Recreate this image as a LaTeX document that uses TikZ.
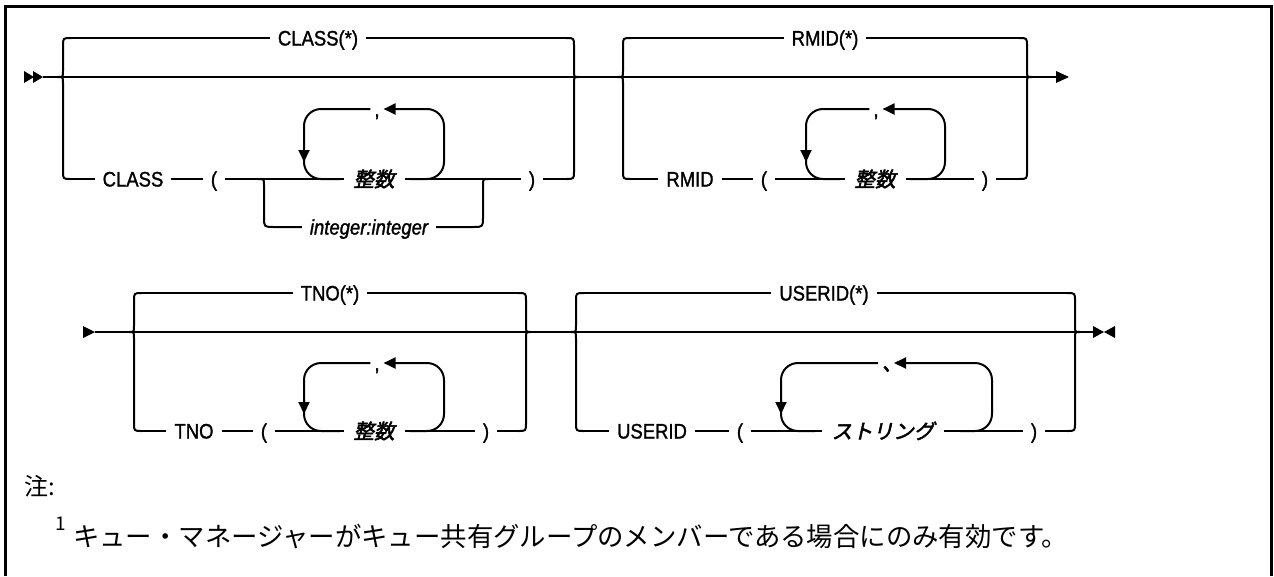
\documentclass[tikz,border=0pt]{standalone}
\usepackage{fontspec}
\setmainfont{Liberation Sans}[FakeStretch=0.88,FakeBold=1.3]
\newfontfamily\cjk{Noto Sans CJK JP}
\newfontfamily\cjkbi{Noto Sans CJK JP}[FakeSlant=0.22,FakeBold=2.5]
\usetikzlibrary{arrows.meta}
\newcommand{\mybraceL}[4]{\draw (#1+8,#2) .. controls (#1,#2) .. (#1,#2+8) -- (#1,#3-6) .. controls (#1,#3) .. (#1-5,#3) .. controls (#1,#3) .. (#1,#3+6) -- (#1,#4-8) .. controls (#1,#4) .. (#1+8,#4);}
\newcommand{\mybraceR}[4]{\draw (#1-8,#2) .. controls (#1,#2) .. (#1,#2+8) -- (#1,#3-6) .. controls (#1,#3) .. (#1+5,#3) .. controls (#1,#3) .. (#1,#3+6) -- (#1,#4-8) .. controls (#1,#4) .. (#1-8,#4);}
\tikzset{
  kw/.style={font=\fontsize{21}{21}\selectfont, inner ysep=0pt, inner xsep=7pt, text height=15pt, text depth=0pt},
  kwc/.style={kw, inner xsep=3pt},
  ii/.style={kw, font=\itshape\fontsize{21}{21}\selectfont},
  var/.style={font=\cjkbi\fontsize{20.5}{20.5}\selectfont, inner ysep=0pt, inner xsep=9pt, text height=16pt, text depth=0.5pt},
  tip/.style={-{Triangle[length=12pt,width=11pt]}},
  loopc/.style={rounded corners=17pt},
}
\begin{document}
\begin{tikzpicture}[x=1pt,y=-1pt,line width=2pt,line join=round]
\useasboundingbox (0,0) rectangle (1274,576);
% frame
\draw[line width=3pt,line join=miter] (5,576) -- (5,6) -- (1271.5,6) -- (1271.5,576);

% ===== Row 1 =====
\coordinate (S1) at (43,77);
\coordinate (E1) at (1057,77);
\fill (24,71) -- (34,77) -- (24,83) -- cycle;
\fill (33,71) -- (43,77) -- (33,83) -- cycle;
\draw (S1) -- (E1);
\fill (1056,71) -- (1069,77) -- (1056,83) -- cycle;

% Block CLASS
\mybraceL{63}{38}{77}{179}
\mybraceR{574}{38}{77}{179}
\node[kw] (Astar) at (318,38) {CLASS(*)};
\draw (71,38) -- (Astar.west);
\draw (Astar.east) -- (566,38);
\node[kw] (Akw) at (133,179) {CLASS};
\node[kw] (Alp) at (214,179) {(};
\node[var] (Aint) at (374,179) {整数};
\node[kw] (Arp) at (532,179) {)};
\node[kwc] (Acm) at (377,109) {,};
\node[ii] (Aii) at (369,227) {integer:integer};
\draw (71,179) -- (Akw.west);
\draw (Akw.east) -- (Alp.west);
\draw (Alp.east) -- (Aint.west);
\draw (Aint.east) -- (Arp.west);
\draw (Arp.east) -- (566,179);
\draw[loopc,tip] (410,179) -- (444,179) -- (444,109) -- (Acm.east);
\draw[loopc,tip] (Acm.west) -- (304,109) -- (304,162);
\draw[loopc] (304,150) -- (304,179) -- (340,179);
\draw (258,179) .. controls (264,179) .. (264,185) -- (264,217) .. controls (264,227) .. (274,227) -- (Aii.west);
\draw (Aii.east) -- (473,227) .. controls (483,227) .. (483,217) -- (483,185) .. controls (483,179) .. (489,179);

% Block RMID
\mybraceL{623}{38}{77}{179}
\mybraceR{1027}{38}{77}{179}
\node[kw] (Bstar) at (825,38) {RMID(*)};
\draw (631,38) -- (Bstar.west);
\draw (Bstar.east) -- (1019,38);
\node[kw] (Bkw) at (690,179) {RMID};
\node[kw] (Blp) at (764,179) {(};
\node[var] (Bint) at (875,179) {整数};
\node[kw] (Brp) at (985,179) {)};
\node[kwc] (Bcm) at (876,109) {,};
\draw (631,179) -- (Bkw.west);
\draw (Bkw.east) -- (Blp.west);
\draw (Blp.east) -- (Bint.west);
\draw (Bint.east) -- (Brp.west);
\draw (Brp.east) -- (1019,179);
\draw[loopc,tip] (910,179) -- (945,179) -- (945,109) -- (Bcm.east);
\draw[loopc,tip] (Bcm.west) -- (806,109) -- (806,162);
\draw[loopc] (806,150) -- (806,179) -- (840,179);

% ===== Row 2 =====
\coordinate (S2) at (95,332);
\coordinate (E2) at (1093,332);
\fill (83,326) -- (95,332) -- (83,338) -- cycle;
\draw (S2) -- (E2);
\fill (1093,326) -- (1104,332) -- (1093,338) -- cycle;
\fill (1115,326) -- (1104,332) -- (1115,338) -- cycle;

% Block TNO
\mybraceL{134}{293}{332}{431}
\mybraceR{526}{293}{332}{431}
\node[kw] (Cstar) at (330,293) {TNO(*)};
\draw (142,293) -- (Cstar.west);
\draw (Cstar.east) -- (518,293);
\node[kw] (Ckw) at (194,431) {TNO};
\node[kw] (Clp) at (264,431) {(};
\node[var] (Cint) at (374,431) {整数};
\node[kw] (Crp) at (486,431) {)};
\node[kwc] (Ccm) at (377,363) {,};
\draw (142,431) -- (Ckw.west);
\draw (Ckw.east) -- (Clp.west);
\draw (Clp.east) -- (Cint.west);
\draw (Cint.east) -- (Crp.west);
\draw (Crp.east) -- (518,431);
\draw[loopc,tip] (410,431) -- (444,431) -- (444,363) -- (Ccm.east);
\draw[loopc,tip] (Ccm.west) -- (304,363) -- (304,414);
\draw[loopc] (304,400) -- (304,431) -- (340,431);

% Block USERID
\mybraceL{576}{293}{332}{431}
\mybraceR{1075}{293}{332}{431}
\node[kw] (Dstar) at (824,293) {USERID(*)};
\draw (584,293) -- (Dstar.west);
\draw (Dstar.east) -- (1067,293);
\node[kw] (Dkw) at (652,431) {USERID};
\node[kw] (Dlp) at (740,431) {(};
\node[var] (Dstr) at (883,431) {ストリング};
\node[kw] (Drp) at (1034,431) {)};
\node[var, inner xsep=3pt] (Dcm) at (886,363) {\makebox[8pt][l]{、}};
\draw (584,431) -- (Dkw.west);
\draw (Dkw.east) -- (Dlp.west);
\draw (Dlp.east) -- (Dstr.west);
\draw (Dstr.east) -- (Drp.west);
\draw (Drp.east) -- (1067,431);
\draw[loopc,tip] (960,431) -- (992,431) -- (992,363) -- (Dcm.east);
\draw[loopc,tip] (Dcm.west) -- (781,363) -- (781,414);
\draw[loopc] (781,400) -- (781,431) -- (815,431);

% ===== Notes =====
\node[anchor=west, inner sep=0pt, font=\cjk\fontsize{24}{24}\selectfont] (note) at (23,486) {注:};
\node[anchor=west, inner sep=0pt, font=\cjk\fontsize{19}{19}\selectfont] (fnum) at (54,524) {1};
\node[anchor=west, inner sep=0pt, font=\cjk\fontsize{26.4}{26.4}\selectfont] (fn) at (72,537) {キュー・マネージャーがキュー共有グループのメンバーである場合にのみ有効です。};
\end{tikzpicture}
\end{document}
